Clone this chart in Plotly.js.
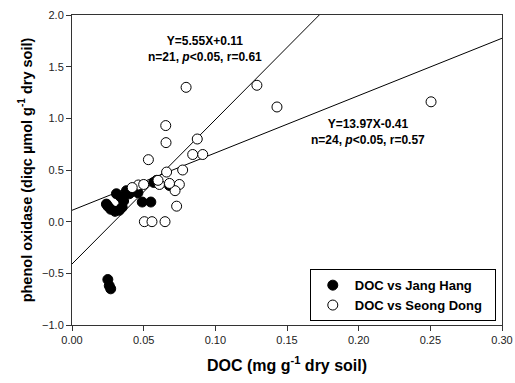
<!DOCTYPE html>
<html>
<head>
<meta charset="utf-8">
<script src="https://cdn.plot.ly/plotly-3.0.1.min.js"></script>
<style>
html,body{margin:0;padding:0;background:#fff;}
#chart{width:515px;height:383px;}
</style>
</head>
<body>
<div id="chart"></div>
<script>
// Jang Hang (filled)
const jangX = [0.024, 0.025, 0.027, 0.030, 0.033, 0.035, 0.031, 0.034, 0.036, 0.038, 0.040,
               0.044, 0.046, 0.049, 0.055, 0.057, 0.059, 0.068, 0.025, 0.026, 0.027];
const jangY = [0.17, 0.15, 0.12, 0.10, 0.11, 0.14, 0.27, 0.24, 0.20, 0.30, 0.27,
               0.31, 0.28, 0.19, 0.19, 0.38, 0.40, 0.35, -0.56, -0.62, -0.65];
// Seong Dong (open)
const seongX = [0.0796, 0.129, 0.143, 0.2505, 0.0654, 0.0656, 0.0874, 0.0842, 0.0912, 0.0533,
                0.0772, 0.066, 0.0463, 0.061, 0.0749, 0.0719, 0.073, 0.0505, 0.0558, 0.0649,
                0.042, 0.050, 0.068, 0.060];
const seongY = [1.30, 1.32, 1.11, 1.16, 0.93, 0.765, 0.80, 0.65, 0.65, 0.60,
                0.50, 0.48, 0.355, 0.36, 0.36, 0.30, 0.15, 0.0, 0.0, 0.0,
                0.33, 0.36, 0.37, 0.40];
// regression lines (slope, intercept)
const fitSlopes = [13.97, 5.55];
const fitIntercepts = [-0.41, 0.11];
const fitXRange = [0, 0.3];

const xTicks = [0, 0.05, 0.10, 0.15, 0.20, 0.25, 0.30];
const yTicks = [-1.0, -0.5, 0.0, 0.5, 1.0, 1.5, 2.0];

const FONT = 'Liberation Sans, Arial, sans-serif';

const traces = [];
fitSlopes.forEach((m, i) => {
  traces.push({
    x: fitXRange,
    y: fitXRange.map(v => m * v + fitIntercepts[i]),
    mode: 'lines', type: 'scatter', showlegend: false, hoverinfo: 'skip',
    line: {color: '#000', width: 1}
  });
});
traces.push({
  x: jangX, y: jangY, mode: 'markers', type: 'scatter', name: 'DOC vs Jang Hang',
  marker: {symbol: 'circle', size: 10, color: '#000', line: {color: '#000', width: 1}},
  cliponaxis: false
});
traces.push({
  x: seongX, y: seongY, mode: 'markers', type: 'scatter', name: 'DOC vs Seong Dong\u00a0\u00a0',
  marker: {symbol: 'circle', size: 10, color: '#fff', line: {color: '#000', width: 1}},
  cliponaxis: false
});

const axisCommon = {
  showgrid: false, zeroline: false, showline: true, linecolor: '#333', linewidth: 1,
  ticks: 'outside', ticklen: 5, tickcolor: '#333', mirror: true,
  tickfont: {family: FONT, size: 11, color: '#222'}
};

const layout = {
  width: 515, height: 383,
  margin: {l: 72, r: 13, t: 15, b: 58},
  paper_bgcolor: '#fff', plot_bgcolor: '#fff',
  font: {family: FONT, color: '#000'},
  xaxis: Object.assign({}, axisCommon, {
    range: [0, 0.3], tickvals: xTicks, tickformat: '.2f',
    title: {text: 'DOC (mg g<sup>-1</sup> dry soil)', standoff: 14,
            font: {family: FONT, size: 16, weight: 'bold'}}
  }),
  yaxis: Object.assign({}, axisCommon, {
    range: [-1, 2], tickvals: yTicks, tickformat: '.1f',
    title: {text: 'phenol oxidase (diqc µmol g<sup>-1</sup> dry soil)', standoff: 6,
            font: {family: FONT, size: 14.5, weight: 'bold'}}
  }),
  legend: {
    x: 0.553, y: 0.18, xanchor: 'left', yanchor: 'top',
    bgcolor: '#fff', bordercolor: '#000', borderwidth: 1,
    font: {family: FONT, size: 13, weight: 'bold'},
    tracegroupgap: 0, itemwidth: 34
  },
  annotations: [
    {x: 0.093, y: 1.667, xref: 'x', yref: 'y', showarrow: false,
     text: 'Y=5.55X+0.11<br>n=21, <i>p</i><0.05, r=0.61',
     font: {family: FONT, size: 12, weight: 'bold'}},
    {x: 0.2065, y: 0.864, xref: 'x', yref: 'y', showarrow: false,
     text: 'Y=13.97X-0.41<br>n=24, <i>p</i><0.05, r=0.57',
     font: {family: FONT, size: 12, weight: 'bold'}}
  ]
};

Plotly.newPlot('chart', traces, layout, {displayModeBar: false, staticPlot: true});
</script>
</body>
</html>
